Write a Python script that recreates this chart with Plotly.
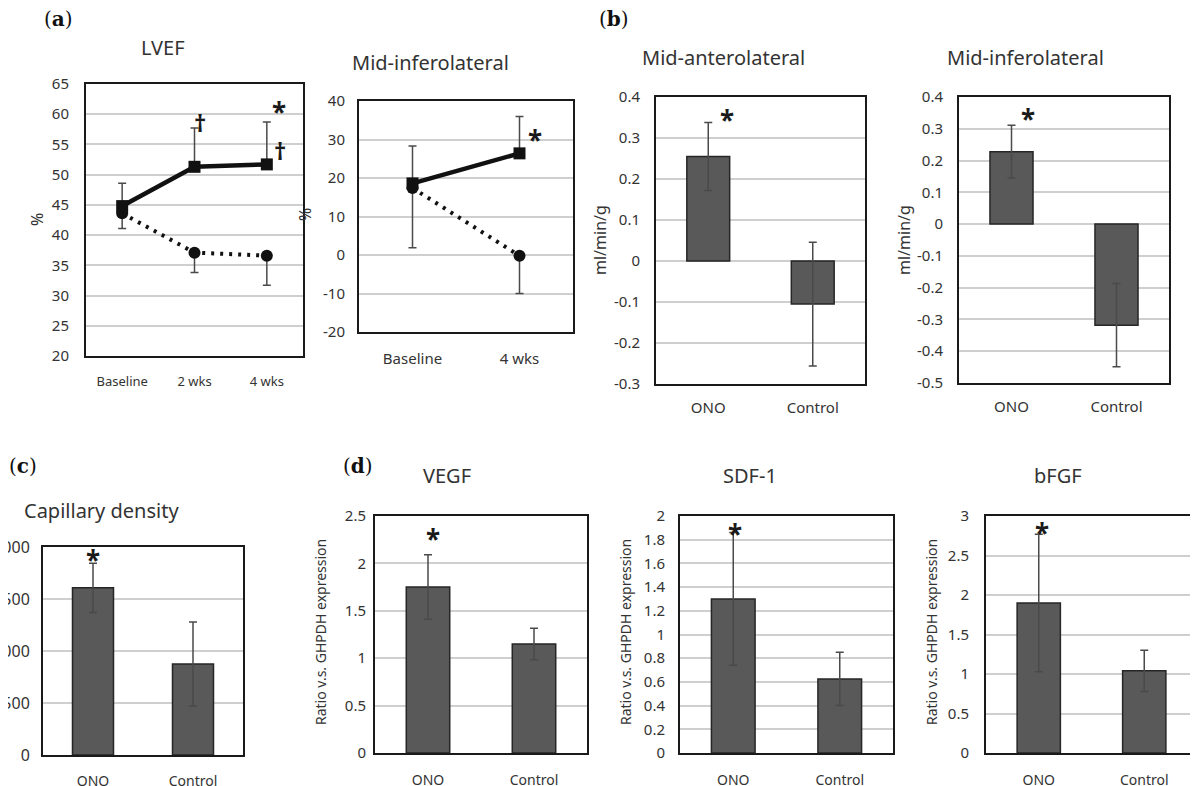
import plotly.graph_objects as go

OFF = 8  # page body margin
W, H = 1198 - OFF, 786 - OFF

# ---------------- data ----------------
lvef_cats = ["Baseline", "2 wks", "4 wks"]
lvef_ono = [44.8, 51.3, 51.7]
lvef_ono_err = [3.8, 6.4, 7.0]
lvef_ctl = [43.6, 37.1, 36.6]
lvef_ctl_err = [2.5, 3.3, 4.9]

mia_cats = ["Baseline", "4 wks"]
mia_ono = [18.6, 26.4]
mia_ono_err = [9.7, 9.6]
mia_ctl = [17.4, -0.2]
mia_ctl_err = [15.5, 9.8]

bar_cats = ["ONO", "Control"]
mal_vals = [0.255, -0.105]
mal_err = [0.083, 0.151]
mil_vals = [0.228, -0.318]
mil_err = [0.083, 0.131]
cap_vals = [1607, 875]
cap_err = [236, 403]
vegf_vals = [1.75, 1.15]
vegf_err = [0.34, 0.167]
sdf_vals = [1.30, 0.625]
sdf_err = [0.56, 0.225]
bfgf_vals = [1.90, 1.04]
bfgf_err = [0.87, 0.26]

lvef_ticks = [20, 25, 30, 35, 40, 45, 50, 55, 60, 65]
mia_ticks = [-20, -10, 0, 10, 20, 30, 40]
mia_ticktext = ["-20", "-10", "0", "10", "20", "30", "40"]
mal_ticks = [-0.3, -0.2, -0.1, 0, 0.1, 0.2, 0.3, 0.4]
mal_ticktext = ["-0.3", "-0.2", "-0.1", "0", "0.1", "0.2", "0.3", "0.4"]
mil_ticks = [-0.5, -0.4, -0.3, -0.2, -0.1, 0, 0.1, 0.2, 0.3, 0.4]
mil_ticktext = ["-0.5", "-0.4", "-0.3", "-0.2", "-0.1", "0", "0.1", "0.2", "0.3", "0.4"]
cap_ticks = [0, 500, 1000, 1500, 2000]
vegf_ticks = [0, 0.5, 1, 1.5, 2, 2.5]
sdf_ticks = [0, 0.2, 0.4, 0.6, 0.8, 1, 1.2, 1.4, 1.6, 1.8, 2]
bfgf_ticks = [0, 0.5, 1, 1.5, 2, 2.5, 3]

FONT = "Noto Sans"
TXT = "#333333"
GRID = "#cfcfcf"
BAR = "#595959"
BAREDGE = "#262626"
ERR = "#4a4a4a"


def px_x(p):
    return (p - OFF) / W


def px_y(p):
    return 1 - (p - OFF) / H


fig = go.Figure()

# id, x px range, y px range, y range, ticks, ticktext, x standoff, y standoff, x font, y font, x range
panels = [
    ("", (86, 303), (84, 356), [20, 65], lvef_ticks, None, 12, 12, 13, 15, [-0.5, 2.5]),
    ("2", (359, 573), (101, 332), [-20, 40], mia_ticks, mia_ticktext, 12, 9, 15, 15, [-0.5, 1.5]),
    ("3", (656, 865), (97, 384), [-0.3, 0.4], mal_ticks, mal_ticktext, 9, 11, 15, 15, [-0.5, 1.5]),
    ("4", (959, 1169), (97, 383), [-0.5, 0.4], mil_ticks, mil_ticktext, 9, 11, 15, 15, [-0.5, 1.5]),
    ("5", (43, 243), (547, 755), [0, 2000], cap_ticks, None, 12, 8, 14, 16, [-0.5, 1.5]),
    ("6", (375, 587), (516, 753), [0, 2.5], vegf_ticks, None, 13, 4, 14, 15, [-0.5, 1.5]),
    ("7", (680, 893), (516, 753), [0, 2], sdf_ticks, None, 13, 10, 14, 15, [-0.5, 1.5]),
    ("8", (986, 1197), (516, 753), [0, 3], bfgf_ticks, None, 13, 12, 14, 15, [-0.5, 1.5]),
]

layout_axes = {}
for pid, (x0, x1), (y0, y1), yr, tv, tt, xso, yso, xfs, yfs, xr in panels:
    layout_axes["xaxis" + pid] = dict(
        domain=[px_x(x0), min(1.0, px_x(x1))],
        anchor="y" + pid,
        type="category",
        range=xr,
        showline=True,
        mirror=True,
        linecolor="#1a1a1a",
        linewidth=2,
        showgrid=False,
        ticks="",
        automargin=False,
        ticklabelstandoff=xso,
        tickfont=dict(family=FONT, size=xfs, color=TXT),
        fixedrange=True,
    )
    yd = dict(
        domain=[px_y(y1), px_y(y0)],
        anchor="x" + pid,
        range=yr,
        tickvals=tv,
        showline=True,
        mirror=True,
        linecolor="#1a1a1a",
        linewidth=2,
        showgrid=True,
        gridcolor=GRID,
        gridwidth=2,
        zeroline=False,
        ticks="",
        automargin=False,
        ticklabelstandoff=yso,
        tickfont=dict(family=FONT, size=yfs, color=TXT),
        fixedrange=True,
    )
    if tt is not None:
        yd["ticktext"] = tt
    layout_axes["yaxis" + pid] = yd


def line_traces(cats, ono, ono_err, ctl, ctl_err, xa, ya):
    fig.add_trace(go.Scatter(
        x=cats, y=ctl, xaxis=xa, yaxis=ya, mode="lines+markers",
        line=dict(color="#111111", width=4, dash="3px,6px"),
        marker=dict(symbol="circle", size=12, color="#111111"),
        error_y=dict(type="data", symmetric=False, array=[0] * len(ctl),
                     arrayminus=ctl_err, color=ERR, thickness=1.5, width=4),
        showlegend=False, hoverinfo="skip"))
    fig.add_trace(go.Scatter(
        x=cats, y=ono, xaxis=xa, yaxis=ya, mode="lines+markers",
        line=dict(color="#111111", width=4.5),
        marker=dict(symbol="square", size=12, color="#111111"),
        error_y=dict(type="data", symmetric=False, array=ono_err,
                     arrayminus=[0] * len(ono), color=ERR, thickness=1.5, width=4),
        showlegend=False, hoverinfo="skip"))


line_traces(lvef_cats, lvef_ono, lvef_ono_err, lvef_ctl, lvef_ctl_err, "x", "y")
line_traces(mia_cats, mia_ono, mia_ono_err, mia_ctl, mia_ctl_err, "x2", "y2")

bar_sets = [
    (mal_vals, mal_err, "x3", "y3"),
    (mil_vals, mil_err, "x4", "y4"),
    (cap_vals, cap_err, "x5", "y5"),
    (vegf_vals, vegf_err, "x6", "y6"),
    (sdf_vals, sdf_err, "x7", "y7"),
    (bfgf_vals, bfgf_err, "x8", "y8"),
]
for vals, err, xa, ya in bar_sets:
    fig.add_trace(go.Bar(
        x=bar_cats, y=vals, xaxis=xa, yaxis=ya, width=0.41,
        marker=dict(color=BAR, line=dict(color=BAREDGE, width=1.5)),
        error_y=dict(type="data", array=err, color=ERR, thickness=1.5, width=4),
        showlegend=False, hoverinfo="skip"))

ann = []

titles = [
    ("LVEF", 163, 47),
    ("Mid-inferolateral", 430, 63),
    ("Mid-anterolateral", 723, 58),
    ("Mid-inferolateral", 1025, 58),
    ("Capillary density", 101, 510),
    ("VEGF", 447, 475),
    ("SDF-1", 750, 475),
    ("bFGF", 1058, 475),
]
for t, x, y in titles:
    ann.append(dict(text=t, x=px_x(x), y=px_y(y), xref="paper", yref="paper",
                    showarrow=False, xanchor="center", yanchor="middle",
                    font=dict(family=FONT, size=20, color=TXT)))

letters = [("(<b>a</b>)", 58, 19), ("(<b>b</b>)", 614, 19), ("(<b>c</b>)", 23, 466), ("(<b>d</b>)", 358, 466)]
for t, x, y in letters:
    ann.append(dict(text=t, x=px_x(x), y=px_y(y), xref="paper", yref="paper",
                    showarrow=False, xanchor="center", yanchor="middle",
                    font=dict(family="DejaVu Serif", size=20, color="#111111")))

ytitles = [
    ("%", 37, 220, 16),
    ("%", 305, 215, 16),
    ("ml/min/g", 600, 240, 16),
    ("ml/min/g", 904, 240, 16),
    ("Ratio v.s. GHPDH expression", 320, 632, 14),
    ("Ratio v.s. GHPDH expression", 625, 632, 14),
    ("Ratio v.s. GHPDH expression", 931, 632, 14),
]
for t, x, y, s in ytitles:
    ann.append(dict(text=t, x=px_x(x), y=px_y(y), xref="paper", yref="paper",
                    showarrow=False, xanchor="center", yanchor="middle", textangle=-90,
                    font=dict(family=FONT, size=s, color=TXT)))

marks = [
    ("*", "x", "y", 2.17, 61.3),
    ("†", "x", "y", 1.08, 58.6),
    ("†", "x", "y", 2.18, 54.0),
    ("*", "x2", "y2", 1.145, 31.5),
    ("*", "x3", "y3", 0.18, 0.358),
    ("*", "x4", "y4", 0.157, 0.35),
    ("*", "x5", "y5", 0.0, 1935),
    ("*", "x6", "y6", 0.05, 2.32),
    ("*", "x7", "y7", 0.02, 1.9),
    ("*", "x8", "y8", 0.03, 2.86),
]
for t, xa, ya, x, y in marks:
    ann.append(dict(text="<b>" + t + "</b>", x=x, y=y, xref=xa, yref=ya,
                    showarrow=False, xanchor="center", yanchor="middle",
                    yshift=-6 if t == "*" else 0,
                    font=dict(family=FONT, size=26 if t == "*" else 24, color="#1a1a1a")))

fig.update_layout(
    width=W, height=H,
    margin=dict(l=0, r=0, t=0, b=0, autoexpand=False),
    paper_bgcolor="white", plot_bgcolor="white",
    annotations=ann,
    showlegend=False,
    **layout_axes,
)

fig.write_html("out.html")
